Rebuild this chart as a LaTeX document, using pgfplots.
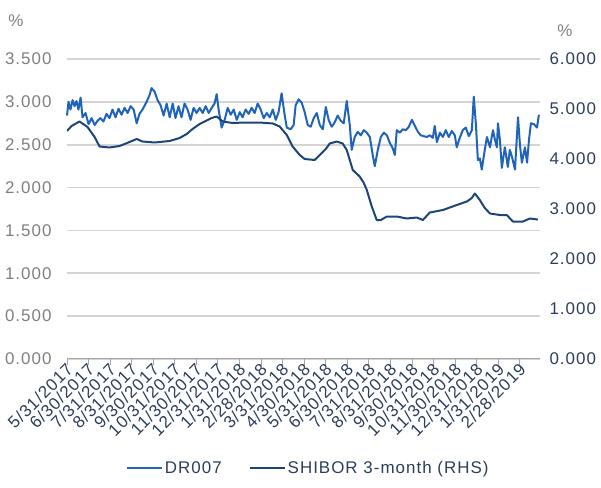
\documentclass[border=0pt]{standalone}
\usepackage{pgfplots}
\pgfplotsset{compat=1.18}
\usepackage{pgfplotstable}
\usepackage{fontspec}
\setmainfont{Liberation Sans}[LetterSpace=6]
\definecolor{drblue}{HTML}{1F64B8}
\definecolor{shnavy}{HTML}{1B4677}
\definecolor{navytxt}{HTML}{2C3E5C}
\definecolor{graytxt}{HTML}{7F7F7F}
\definecolor{gridc}{HTML}{D4D4D4}
\definecolor{axisc}{HTML}{A6A6A6}

\pgfplotstableread{
m v
0 2.84
0.07 3.00
0.16 2.91
0.26 3.02
0.35 2.95
0.44 3.01
0.53 2.91
0.63 3.05
0.72 2.82
0.86 2.87
1.00 2.74
1.14 2.81
1.28 2.73
1.42 2.78
1.55 2.81
1.69 2.77
1.83 2.86
1.97 2.81
2.11 2.91
2.25 2.82
2.39 2.92
2.53 2.85
2.67 2.93
2.81 2.87
2.95 2.95
3.09 2.91
3.23 2.75
3.36 2.86
3.50 2.91
3.69 3.00
3.83 3.08
3.92 3.16
4.06 3.12
4.20 3.02
4.34 2.96
4.48 2.84
4.62 2.98
4.76 2.82
4.90 2.98
5.03 2.81
5.17 2.95
5.31 2.82
5.45 2.98
5.59 2.91
5.73 2.79
5.87 2.93
6.01 2.87
6.15 2.93
6.29 2.87
6.43 2.95
6.57 2.87
6.71 2.93
6.84 2.98
6.94 3.09
7.03 2.91
7.17 2.70
7.31 2.79
7.45 2.93
7.59 2.85
7.73 2.91
7.87 2.79
8.01 2.88
8.14 2.82
8.28 2.91
8.42 2.86
8.56 2.93
8.70 2.87
8.84 2.98
8.98 2.91
9.12 2.81
9.26 2.87
9.40 2.82
9.54 2.91
9.68 2.79
9.81 2.88
9.95 3.10
10.09 2.85
10.19 2.70
10.37 2.68
10.51 2.73
10.60 2.96
10.74 3.03
10.88 2.99
11.02 2.88
11.16 2.73
11.30 2.71
11.44 2.81
11.58 2.87
11.72 2.73
11.86 2.68
12.00 2.94
12.13 2.79
12.27 2.71
12.41 2.76
12.55 2.84
12.69 2.78
12.83 2.75
12.97 3.01
13.11 2.73
13.20 2.44
13.34 2.59
13.48 2.65
13.62 2.61
13.76 2.67
13.90 2.64
14.04 2.59
14.18 2.37
14.27 2.25
14.41 2.44
14.55 2.59
14.69 2.64
14.83 2.61
14.97 2.52
15.10 2.46
15.20 2.38
15.29 2.67
15.43 2.64
15.57 2.68
15.71 2.67
15.85 2.71
15.99 2.79
16.13 2.72
16.27 2.65
16.40 2.61
16.54 2.60
16.68 2.59
16.82 2.61
16.96 2.58
17.05 2.72
17.15 2.53
17.29 2.64
17.43 2.59
17.56 2.67
17.70 2.59
17.84 2.66
17.98 2.61
18.07 2.47
18.21 2.58
18.35 2.67
18.49 2.70
18.63 2.60
18.77 2.67
18.86 3.06
18.96 2.73
19.05 2.32
19.14 2.34
19.23 2.21
19.37 2.44
19.47 2.59
19.61 2.47
19.75 2.67
19.84 2.56
19.93 2.47
19.98 2.75
20.07 2.56
20.16 2.23
20.30 2.47
20.44 2.24
20.53 2.44
20.63 2.36
20.77 2.21
20.91 2.82
21.00 2.50
21.09 2.29
21.23 2.47
21.33 2.29
21.42 2.56
21.51 2.75
21.65 2.74
21.79 2.70
21.88 2.85
}\drtable

\pgfplotstableread{
m r
0 4.56
0.21 4.66
0.58 4.75
0.95 4.64
1.28 4.44
1.51 4.25
1.97 4.23
2.44 4.26
2.90 4.34
3.23 4.40
3.50 4.35
4.06 4.33
4.76 4.36
5.22 4.42
5.55 4.50
5.82 4.60
6.15 4.70
6.47 4.77
6.71 4.82
6.94 4.85
7.22 4.75
7.68 4.72
8.24 4.73
8.93 4.73
9.54 4.71
9.86 4.65
10.19 4.48
10.46 4.25
10.79 4.08
11.02 4.00
11.48 3.98
11.72 4.08
12.00 4.20
12.18 4.31
12.51 4.35
12.78 4.31
12.97 4.18
13.11 3.98
13.25 3.78
13.57 3.65
13.76 3.52
13.90 3.38
14.13 3.05
14.36 2.78
14.55 2.78
14.83 2.85
15.29 2.85
15.75 2.81
16.22 2.83
16.50 2.78
16.82 2.93
17.43 2.98
18.07 3.08
18.54 3.15
18.77 3.22
18.91 3.31
19.14 3.18
19.37 3.02
19.61 2.91
20.07 2.88
20.39 2.88
20.67 2.75
21.14 2.75
21.46 2.81
21.83 2.79
}\shtable

\begin{document}
\begin{tikzpicture}[font=\fontsize{17}{20}\selectfont]
\useasboundingbox (0,0) rectangle (601bp,488bp);
\pgfplotsset{
  base/.style={
    scale only axis, width=473bp, height=300bp,
    at={(67bp,129bp)}, anchor=south west,
    xmin=0, xmax=21.93,
    /pgf/number format/assume math mode=true,
    /pgf/number format/.cd, fixed, fixed zerofill, precision=3, /pgfplots/.cd,
    tick label style={font=\fontsize{17}{20}\selectfont},
  }
}
\begin{axis}[base,
  ymin=0, ymax=3.5, ytick={0,0.5,...,3.5},
  axis x line*=bottom, axis y line*=left,
  y axis line style={draw=none},
  ymajorgrids, grid style={gridc, line width=1.6bp},
  x axis line style={axisc, line width=1bp, -},
  xtick={0,...,21},
  xticklabels={5/31/2017,6/30/2017,7/31/2017,8/31/2017,9/30/2017,10/31/2017,11/30/2017,12/31/2017,1/31/2018,2/28/2018,3/31/2018,4/30/2018,5/31/2018,6/30/2018,7/31/2018,8/31/2018,9/30/2018,10/31/2018,11/30/2018,12/31/2018,1/31/2019,2/28/2019},
  xticklabel style={rotate=45, anchor=east, text=navytxt, inner sep=1bp, xshift=2bp, yshift=-3bp},
  x tick style={axisc, line width=1bp},
  tick align=outside, major tick length=6bp,
  yticklabel style={text=graytxt, xshift=-6bp},
  ytick style={draw=none},
  legend style={at={(0.51,-0.363)}, anchor=center, draw=none, fill=none,
    legend columns=2, text=navytxt, inner sep=0pt,
    nodes={inner sep=1.5bp},
    /tikz/every even column/.append style={column sep=26bp}},
  legend image code/.code={\draw[#1] (0bp,0bp) -- (35bp,0bp);},
  clip=false,
]
\addplot[drblue, line width=2bp, line join=round] table[x=m, y=v] {\drtable};
\addlegendentry{DR007}
\addlegendimage{shnavy, line width=2bp}
\addlegendentry{SHIBOR 3-month (RHS)}
\end{axis}
\begin{axis}[base,
  ymin=0, ymax=6, ytick={0,1,...,6},
  axis x line=none, axis y line*=right,
  y axis line style={draw=none},
  ytick style={draw=none},
  yticklabel style={text=navytxt, xshift=6bp},
]
\addplot[shnavy, line width=2bp, line join=round] table[x=m, y=r] {\shtable};
\end{axis}
\node[text=graytxt] at (16bp,467bp) {\%};
\node[text=graytxt] at (565bp,457bp) {\%};
\end{tikzpicture}
\end{document}
